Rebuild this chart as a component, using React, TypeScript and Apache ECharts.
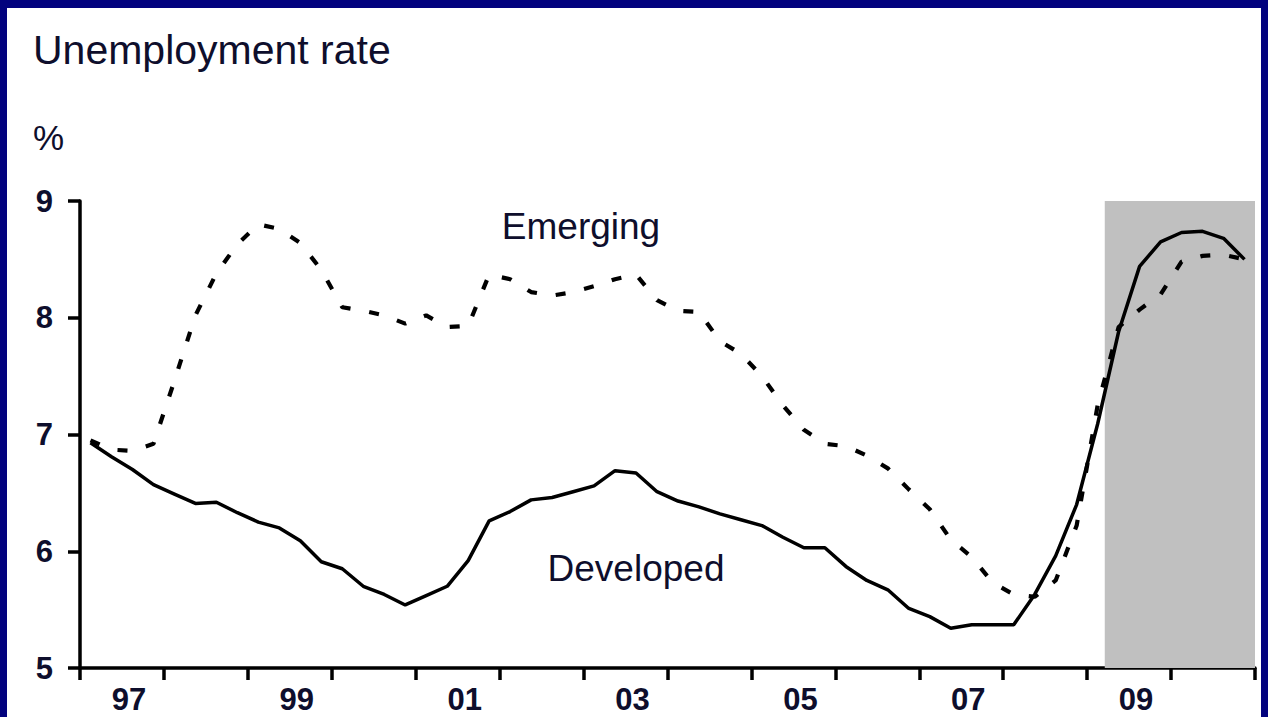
import React, { useEffect, useRef } from 'react';
import * as echarts from 'echarts';

// ---- data ----
const years = [1997, 1998, 1999, 2000, 2001, 2002, 2003, 2004, 2005, 2006, 2007, 2008, 2009, 2010];
const quarterNames = ['Q1', 'Q2', 'Q3', 'Q4'];
const quarters = years.flatMap((y) => quarterNames.map((q) => `${y}${q}`));

const developed = [
  6.93, 6.81, 6.70, 6.57, 6.49, 6.41, 6.42, 6.33, 6.25, 6.20,
  6.09, 5.91, 5.85, 5.70, 5.63, 5.54, 5.62, 5.70, 5.92, 6.26,
  6.34, 6.44, 6.46, 6.51, 6.56, 6.69, 6.67, 6.51, 6.43, 6.38,
  6.32, 6.27, 6.22, 6.12, 6.03, 6.03, 5.87, 5.75, 5.67, 5.51,
  5.44, 5.34, 5.37, 5.37, 5.37, 5.63, 5.96, 6.40, 7.09, 7.88,
  8.44, 8.65, 8.73, 8.74, 8.68, 8.50,
];

const emerging = [
  6.95, 6.87, 6.86, 6.92, 7.46, 8.02, 8.38, 8.63, 8.80, 8.76,
  8.64, 8.41, 8.09, 8.06, 8.02, 7.95, 8.02, 7.92, 7.93, 8.37,
  8.33, 8.22, 8.19, 8.22, 8.27, 8.33, 8.37, 8.15, 8.06, 8.05,
  7.80, 7.69, 7.50, 7.25, 7.04, 6.92, 6.90, 6.82, 6.71, 6.53,
  6.36, 6.10, 5.95, 5.73, 5.63, 5.61, 5.75, 6.22, 7.25, 7.92,
  8.07, 8.20, 8.48, 8.53, 8.54, 8.50,
];

const xTickLabels = ['97', '99', '01', '03', '05', '07', '09'];
const yMin = 5;
const yMax = 9;
const xMin = 1997;
const xMax = 2011;
const forecastStart = 2009.21;

const titleText = 'Unemployment rate';
const unitText = '%';
const emergingLabel = 'Emerging';
const developedLabel = 'Developed';

// ---- helpers ----
function quarterToX(label: string): number {
  const y = Number(label.slice(0, 4));
  const q = Number(label.slice(5));
  return y + (q - 1) * 0.25 + 0.125;
}

const FONT = '"Liberation Sans", Arial, Helvetica, sans-serif';
const TEXT_COLOR = '#0e0e2c';

export default function App() {
  const ref = useRef<HTMLDivElement>(null);

  useEffect(() => {
    if (!ref.current) return;
    const chart = echarts.init(ref.current, null, { renderer: 'svg' });

    const devData = quarters.map((q, i) => [quarterToX(q), developed[i]]);
    const emgData = quarters.map((q, i) => [quarterToX(q), emerging[i]]);

    const option: any = {
      animation: false,
      backgroundColor: '#02027e',
      graphic: [
        {
          type: 'rect',
          z: -10,
          shape: { x: 7, y: 8, width: 1254, height: 709 },
          style: { fill: '#ffffff' },
          silent: true,
        },
        {
          type: 'text',
          x: 33,
          y: 50,
          style: {
            text: titleText,
            font: `41px ${FONT}`,
            fill: TEXT_COLOR,
            align: 'left',
            verticalAlign: 'middle',
          },
        },
        {
          type: 'text',
          x: 33,
          y: 137,
          style: {
            text: unitText,
            font: `35px ${FONT}`,
            fill: TEXT_COLOR,
            align: 'left',
            verticalAlign: 'middle',
          },
        },
        {
          type: 'text',
          x: 581,
          y: 226,
          style: {
            text: emergingLabel,
            font: `37px ${FONT}`,
            fill: TEXT_COLOR,
            align: 'center',
            verticalAlign: 'middle',
          },
        },
        {
          type: 'text',
          x: 636,
          y: 568,
          style: {
            text: developedLabel,
            font: `37px ${FONT}`,
            fill: TEXT_COLOR,
            align: 'center',
            verticalAlign: 'middle',
          },
        },
      ],
      grid: {
        left: 80,
        right: 13,
        top: 201,
        bottom: 49,
        containLabel: false,
      },
      xAxis: [
        {
          type: 'value',
          min: xMin,
          max: xMax,
          interval: 1,
          position: 'bottom',
          axisLine: { show: true, onZero: false, lineStyle: { color: '#000', width: 3.5 } },
          axisTick: { show: true, length: 12, lineStyle: { color: '#000', width: 3.5 } },
          axisLabel: { show: false },
          splitLine: { show: false },
        },
        {
          type: 'value',
          min: xMin,
          max: xMax,
          interval: 0.5,
          position: 'bottom',
          axisLine: { show: false },
          axisTick: { show: false },
          splitLine: { show: false },
          axisLabel: {
            show: true,
            margin: 16,
            color: TEXT_COLOR,
            fontSize: 31,
            fontWeight: 'bold',
            fontFamily: FONT,
            padding: [0, 0, 0, 14],
            formatter: (v: number) => {
              const y = Math.floor(v);
              if (Math.abs(v - y - 0.5) > 1e-6) return '';
              const s = String(y).slice(2);
              return xTickLabels.includes(s) ? s : '';
            },
          },
        },
      ],
      yAxis: {
        type: 'value',
        min: yMin,
        max: yMax,
        interval: 1,
        axisLine: { show: true, onZero: false, lineStyle: { color: '#000', width: 3.5 } },
        axisTick: { show: true, length: 12, lineStyle: { color: '#000', width: 3.5 } },
        axisLabel: {
          margin: 27,
          color: TEXT_COLOR,
          fontSize: 31,
          fontWeight: 'bold',
          fontFamily: FONT,
        },
        splitLine: { show: false },
      },
      series: [
        {
          name: 'forecast',
          type: 'line',
          data: [],
          xAxisIndex: 0,
          silent: true,
          markArea: {
            silent: true,
            z: 1,
            itemStyle: { color: '#c0c0c0' },
            data: [[{ xAxis: forecastStart }, { xAxis: xMax }]],
          },
        },
        {
          name: 'Developed',
          type: 'line',
          xAxisIndex: 0,
          data: devData,
          showSymbol: false,
          symbol: 'none',
          z: 4,
          lineStyle: { color: '#000', width: 3.5, type: 'solid' },
        },
        {
          name: 'Emerging',
          type: 'line',
          xAxisIndex: 0,
          data: emgData,
          showSymbol: false,
          symbol: 'none',
          z: 3,
          lineStyle: { color: '#000', width: 4.2, type: [10, 19] },
        },
      ],
    };

    chart.setOption(option);
    return () => {
      chart.dispose();
    };
  }, []);

  return (
    <div
      ref={ref}
      style={{ position: 'absolute', left: 0, top: 0, width: 1268, height: 717 }}
    />
  );
}
